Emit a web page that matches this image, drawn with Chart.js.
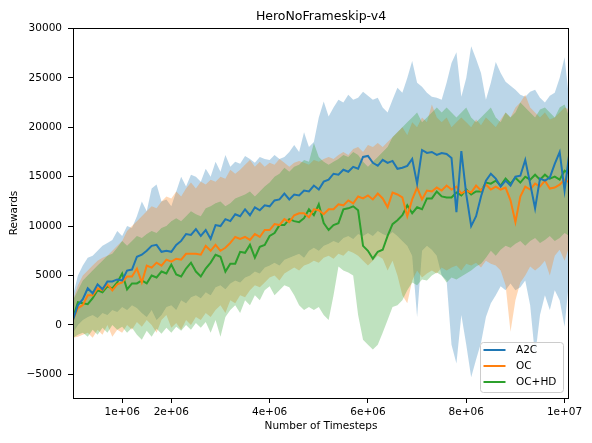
<!DOCTYPE html>
<html>
<head>
<meta charset="utf-8">
<script src="https://cdn.jsdelivr.net/npm/chart.js@4.4.1/dist/chart.umd.min.js"></script>
<style>
  html, body { margin: 0; padding: 0; background: #fff; }
</style>
</head>
<body>
<canvas id="chart" width="592" height="443"></canvas>
<script>
// series names + colours (matplotlib tab10)
const seriesNames = ['A2C', 'OC', 'OC+HD'];
const seriesColors = ['#1f77b4', '#ff7f0e', '#2ca02c'];
const bandColors = ['rgba(31,119,180,0.3)', 'rgba(255,127,14,0.3)', 'rgba(44,160,44,0.3)'];

// axis ticks
const xTicks = [1e6, 2e6, 4e6, 6e6, 8e6, 1e7];
const xTickLabels = ['1e+06', '2e+06', '4e+06', '6e+06', '8e+06', '1e+07'];
const yTicks = [-5000, 0, 5000, 10000, 15000, 20000, 25000, 30000];
const yTickLabels = ['\u22125000', '0', '5000', '10000', '15000', '20000', '25000', '30000'];

// mean rewards, one value every 1e5 timesteps
const a2cMean = [500,2000,2600,3700,3200,4100,3600,4400,4400,4600,
  4500,5500,5600,6900,7100,7500,8000,8100,7400,7500,
  7400,8100,8500,9200,9100,9700,9000,9600,8700,10100,
  10000,10700,10500,11200,11000,11700,11100,11900,11600,12100,
  12000,12600,12700,13300,12700,13200,13100,13600,13500,14100,
  13700,14500,14700,15300,15200,15700,15500,16000,15800,17000,
  17100,16400,16100,16700,16400,16600,15800,15900,16100,16800,
  14300,17700,17400,17500,17200,17400,17300,16900,11400,17600,
  13200,10000,11000,13000,14600,15300,14800,14000,14600,14100,
  15000,15100,16700,14300,11800,14800,14600,14900,16300,17500,
  13600,17500];
const ocMean = [500,1700,2000,3000,3000,3700,3500,4100,3500,4100,
  4300,4900,4900,5700,4300,6000,5800,6300,6000,6600,
  6400,6700,6600,7200,7200,7200,7100,8000,7500,8100,
  7500,7800,8300,8900,8700,8900,8600,9200,8900,9600,
  9600,10200,10100,10700,10400,11100,11300,11300,10900,11700,
  11600,11200,11700,11700,12200,12100,12600,12300,13000,12800,
  13100,12700,13300,12800,11900,13400,13200,12900,11000,12700,
  13900,12700,13600,13500,13900,13600,14100,13700,14000,13300,
  13600,13400,14100,13600,14200,13700,14000,13700,13900,12600,
  10400,13000,14000,13700,14300,14000,14600,13800,13900,14200,
  14700,14400];
const ochdMean = [700,2300,2200,2100,2700,3500,3300,3900,3700,4300,
  5200,3600,4200,4200,4500,4200,5000,4800,5400,5200,
  6100,5100,4900,5700,6300,5400,4900,5700,6300,7100,
  6900,5400,6200,6200,7400,7300,8100,6800,7900,8100,
  9000,9300,10100,10100,10700,10500,10400,10800,11700,11100,
  12200,10300,9600,10100,10300,11700,11800,12000,11600,8000,
  7500,6700,7400,7600,9000,10200,10600,11100,12100,11300,
  11900,11700,12800,12800,13500,13000,12900,12900,13400,13100,
  13700,13200,13500,13500,14400,14300,14600,14100,14800,14300,
  14900,14400,15000,14700,15200,14700,15200,14800,15000,14700,
  15600,15300];

// shaded band edges
const a2cHi = [3000,5000,6000,6800,7000,7500,8000,8300,8600,9500,
  9000,10000,9800,11000,12500,11500,13800,14200,12500,12700,
  12000,13500,15000,14000,15200,15000,14500,15800,15000,16500,
  15500,17200,16000,16500,16300,17100,16800,16400,17000,16800,
  16700,17200,16800,17000,17500,18200,17500,19500,18000,18500,
  21000,22600,21100,22000,22800,22500,23300,22800,23000,23600,
  23200,22800,23000,22000,21500,22800,24000,23500,25000,26700,
  24500,24100,23500,23100,23000,22800,24500,26500,27600,23100,
  25000,28200,26900,25500,22800,24500,26600,25500,24600,24200,
  23800,23300,23100,23600,23800,23000,22500,23200,23500,25000,
  27100,22500];
const a2cLo = [-800,0,500,800,1000,700,1200,1000,1500,1300,
  1800,1500,2000,1700,1200,800,1500,500,1000,1800,
  2000,1500,2500,2200,2800,3000,2700,3300,3000,3800,
  4000,3600,4200,4500,4300,4800,5000,5400,5200,5800,
  6000,6300,6000,6600,6800,7000,7200,6800,7500,7800,
  7500,8000,8200,8500,8300,8800,9000,8700,9200,9000,
  9300,9000,9500,9200,9000,9400,9000,8500,8000,7000,
  800,7500,8000,7600,7000,5000,4500,-2000,-3900,1000,
  -2000,-5300,-3500,-1800,800,2200,3000,3900,3500,4200,
  3500,3800,4500,2000,-3200,1000,3000,1500,3500,2500,
  -200,4900];
const ocHi = [2500,4000,5000,5500,6000,6500,6800,7000,7500,8000,
  8500,9500,10000,10500,11000,11500,12000,11800,12500,13000,
  12800,13500,13000,13800,14400,13800,14500,14200,14700,14500,
  15000,14800,15700,15300,15700,16200,16700,16000,16500,16000,
  16400,16200,16800,16400,16000,16400,16600,16400,16200,16700,
  16500,16800,17000,16800,17200,17500,17200,17800,18000,17500,
  18200,18000,18400,18000,18500,19000,19500,20000,19200,20500,
  20000,21000,20500,22300,21000,20500,21000,20000,20500,21000,
  20500,20000,20800,20200,21000,20500,20000,20800,21500,21000,
  22000,22500,23300,22000,21500,21000,21500,20800,21000,21500,
  22000,21800];
const ocLo = [-1300,-1200,-1000,-800,-1300,-500,-1000,0,-1200,-500,
  -800,0,-500,300,-200,500,0,-800,500,1000,
  -300,200,-500,500,0,800,500,1200,800,1500,
  2000,1200,2500,2200,3000,2800,3500,4000,3800,4300,
  4800,5000,4500,5200,5500,5800,5500,6000,6200,6500,
  6300,6800,7000,6700,7200,7000,7500,7300,7000,6500,
  6000,6500,7000,6700,5500,6500,5000,3000,2200,4500,
  5500,4800,5200,5500,5200,5800,5500,5800,6000,5500,
  6200,6000,6300,5800,6500,6200,6000,5500,4000,-700,
  2500,4300,5000,5900,5500,5900,6500,5000,7000,7600,
  6500,8000];
const ochdHi = [2500,3500,4500,5000,5500,6000,6500,7000,7200,7800,
  8500,8000,8500,9000,8800,9200,9500,9300,9800,10000,
  10500,10800,10500,11000,11500,11200,11000,11800,12000,12300,
  12500,12000,12300,12800,13000,13200,13500,13000,13500,14000,
  14400,15000,15300,15900,15500,16000,16200,16700,16500,18400,
  17000,16500,16200,16500,16800,17200,17000,17500,17200,16500,
  16000,16500,17000,17500,18000,19000,19500,20000,20500,21000,
  21500,20500,21000,21500,22000,21500,22000,21500,21000,21500,
  22000,21000,20500,21000,21500,22000,21000,20500,21500,21000,
  21500,22500,22000,21500,21000,21800,22000,21500,21000,22000,
  22300,21000];
const ochdLo = [-1300,-1000,-800,-1200,-500,-1000,-300,-800,0,-500,
  -200,-800,-300,-1000,-1500,-600,-1200,-400,-900,-300,
  -800,-200,-600,0,-500,200,-300,300,-800,500,
  -1200,800,1500,2000,1200,2500,2000,3000,2500,3500,
  3900,3000,3500,4000,3800,3000,2000,1500,1800,1500,
  1800,1000,500,3000,5900,5500,5300,5000,1000,-1500,
  -2000,-2500,-2000,-800,500,1800,2000,2500,3500,4300,
  4000,4600,4500,5000,5300,5000,4300,4800,4600,4900,
  5200,5500,5900,6200,6800,7500,7000,7600,8000,7800,
  8200,8500,8000,8500,8800,8300,8600,9000,8500,8800,
  9300,9000];

const means = [a2cMean, ocMean, ochdMean];
const highs = [a2cHi, ocHi, ochdHi];
const lows = [a2cLo, ocLo, ochdLo];

// x grid: one sample per 1e5 timesteps
const steps = a2cMean.map((_, i) => i * 1e5);
const pts = arr => arr.map((y, i) => ({ x: steps[i], y: y }));

const FONT = '"DejaVu Sans", sans-serif';
Chart.defaults.font.family = FONT;
Chart.defaults.font.size = 10.5;
Chart.defaults.color = '#000';

//les lignes (moyennes) en premier -> dessinees par dessus
let datasets = seriesNames.map((name, k) => ({
  label: name,
  data: pts(means[k]),
  borderColor: seriesColors[k],
  borderWidth: 2,
  pointRadius: 0,
  fill: false,
  order: 0
}));
// bandes: lo puis hi (hi remplit jusqu'a lo)
seriesNames.forEach((name, k) => {
  const loIndex = datasets.length;
  datasets.push({
    label: name + ' lo',
    data: pts(lows[k]),
    borderWidth: 0,
    borderColor: 'transparent',
    pointRadius: 0,
    fill: false,
    order: 3 - k
  });
  datasets.push({
    label: name + ' hi',
    data: pts(highs[k]),
    borderWidth: 0,
    borderColor: 'transparent',
    backgroundColor: bandColors[k],
    pointRadius: 0,
    fill: loIndex,
    order: 3 - k
  });
});

// titre + cadre + legende faits a la main
const framePlugin = {
  id: 'frame',
  afterDraw(chart) {
    const { ctx, chartArea: a } = chart;
    ctx.save();
    // spines
    ctx.strokeStyle = '#000';
    ctx.lineWidth = 1;
    ctx.strokeRect(Math.round(a.left) + 0.5, Math.round(a.top) + 0.5,
      Math.round(a.right - a.left) - 1, Math.round(a.bottom - a.top));
    // titre
    ctx.fillStyle = '#000';
    ctx.font = '12.5px ' + FONT;
    ctx.textAlign = 'center';
    ctx.textBaseline = 'middle';
    ctx.fillText('HeroNoFrameskip-v4', (a.left + a.right) / 2, 17);

    // legende en bas a droite
    const w = 83, h = 50;
    const x = a.right - 6 - w, y = a.bottom - 6 - h;
    ctx.beginPath();
    ctx.roundRect(x + 0.5, y + 0.5, w, h, 3);
    ctx.fillStyle = 'rgba(255,255,255,0.8)';
    ctx.fill();
    ctx.strokeStyle = '#cccccc';
    ctx.stroke();
    ctx.font = '10.5px ' + FONT;
    ctx.textAlign = 'left';
    seriesNames.forEach((name, k) => {
      const ly = y + 8 + k * 16;
      ctx.beginPath();
      ctx.moveTo(x + 3.5, ly);
      ctx.lineTo(x + 25.5, ly);
      ctx.strokeStyle = chart.data.datasets[k].borderColor;
      ctx.lineWidth = 2;
      ctx.stroke();
      ctx.fillStyle = '#000';
      ctx.fillText(name, x + 36, ly + 0.5);
    });
    ctx.restore();
  }
};

const ctx = document.getElementById('chart').getContext('2d');
const chart = new Chart(ctx, {
  type: 'line',
  data: { datasets: datasets },
  options: {
    responsive: false,
    animation: false,
    layout: { padding: { top: 28, right: 23, left: 0, bottom: 0 } },
    plugins: {
      legend: { display: false },
      tooltip: { enabled: false },
      title: { display: false }
    },
    scales: {
      x: {
        type: 'linear',
        min: 0,
        max: 10.09e6,
        afterFit: s => { s.height = 45; },
        afterBuildTicks: s => { s.ticks = xTicks.map(v => ({ value: v })); },
        ticks: {
          autoSkip: false,
          maxRotation: 0,
          padding: 3,
          callback: v => xTickLabels[xTicks.indexOf(v)]
        },
        grid: { drawOnChartArea: false, drawTicks: true, tickLength: 5, color: '#000' },
        border: { display: false },
        title: { display: true, text: 'Number of Timesteps', padding: { top: 0, bottom: 10 } }
      },
      y: {
        type: 'linear',
        min: -7400,
        max: 30050,
        afterFit: s => { s.width = 73; },
        afterBuildTicks: s => { s.ticks = yTicks.map(v => ({ value: v })); },
        ticks: {
          padding: 6,
          callback: v => yTickLabels[yTicks.indexOf(v)]
        },
        grid: { drawOnChartArea: false, drawTicks: true, tickLength: 5, color: '#000' },
        border: { display: false },
        title: { display: true, text: 'Rewards', padding: { top: 8, bottom: 0 } }
      }
    }
  },
  plugins: [framePlugin]
});
</script>
</body>
</html>
